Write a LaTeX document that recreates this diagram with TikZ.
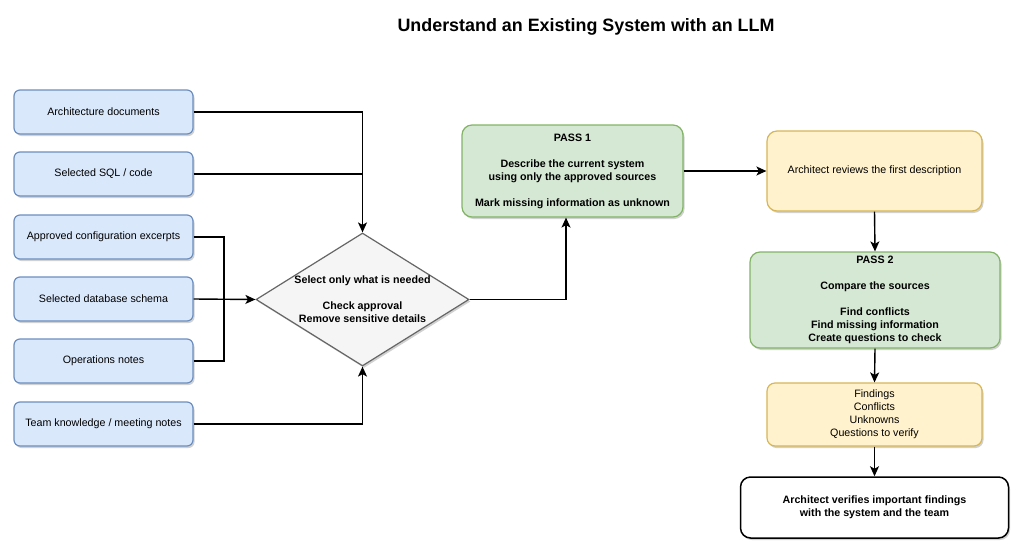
\documentclass[tikz,border=0pt]{standalone}
\usepackage{fontspec}
\setmainfont{Liberation Sans}
\definecolor{dioblue}{HTML}{DAE8FC}
\definecolor{dioblueline}{HTML}{6C8EBF}
\definecolor{diogreen}{HTML}{D5E8D4}
\definecolor{diogreenline}{HTML}{82B366}
\definecolor{dioyellow}{HTML}{FFF2CC}
\definecolor{dioyellowline}{HTML}{D6B656}
\definecolor{diogray}{HTML}{F5F5F5}
\definecolor{diograyline}{HTML}{666666}
\usetikzlibrary{shapes.geometric,arrows.meta,shadows}

\begin{document}
\begin{tikzpicture}[
  x=1pt, y=-1pt,
  card/.style={draw=#1line, fill=#1, rounded corners=6pt, line width=1.2pt,
    drop shadow={shadow xshift=1.5pt, shadow yshift=-2pt, opacity=0.18, fill=black},
    font=\fontsize{10.7}{13}\selectfont, align=center, inner sep=2pt},
  src/.style={card=dioblue, minimum width=179pt, minimum height=44pt},
  pass/.style={card=diogreen, rounded corners=10pt, font=\fontsize{10.7}{13}\selectfont\bfseries},
  gate/.style={diamond, draw=diograyline, fill=diogray, line width=1.2pt,
    shape aspect=1.6, inner sep=0pt, minimum width=213pt, minimum height=133pt,
    drop shadow={shadow xshift=1.5pt, shadow yshift=-2pt, opacity=0.18, fill=black},
    font=\fontsize{10.7}{13}\selectfont\bfseries, align=center},
  wire/.style={line width=1.4pt, black},
  flow/.style={wire, -{Stealth[length=10pt, width=9pt, inset=2.5pt]}}
]
  \useasboundingbox (0,0) rectangle (1024,554);

  % Title
  \node[font=\fontsize{17.9}{21}\selectfont\bfseries] (title) at (586,27) {Understand an Existing System with an LLM};

  % Sources
  \node[src] (arch) at (103.5,112) {Architecture documents};
  \node[src] (sql) at (103.5,174) {Selected SQL / code};
  \node[src] (config) at (103.5,237) {Approved configuration excerpts};
  \node[src] (schema) at (103.5,299) {Selected database schema};
  \node[src] (ops) at (103.5,361) {Operations notes};
  \node[src] (team) at (103.5,424) {Team knowledge / meeting notes};

  % Selection step
  \node[gate] (select) at (362.5,299.5) {Select only what is needed\\[13pt]Check approval\\Remove sensitive details};
  \coordinate (merge) at (224,299);

  % Passes and review
  \node[pass, minimum width=221pt, minimum height=92pt] (pass1) at (572.5,171)
    {PASS 1\\[13pt]Describe the current system\\using only the approved sources\\[13pt]Mark missing information as unknown};
  \node[card=dioyellow, rounded corners=10pt, minimum width=215pt, minimum height=80pt] (review) at (874.5,171)
    {Architect reviews the first description};
  \node[pass, minimum width=250pt, minimum height=96pt] (pass2) at (875,300)
    {PASS 2\\[13pt]Compare the sources\\[13pt]Find conflicts\\Find missing information\\Create questions to check};
  \node[card=dioyellow, rounded corners=8pt, minimum width=215pt, minimum height=63pt] (findings) at (874.5,414.5)
    {Findings\\Conflicts\\Unknowns\\Questions to verify};
  \node[draw, fill=white, rounded corners=10pt, line width=1.5pt, minimum width=268pt, minimum height=61pt,
    drop shadow={shadow xshift=1.5pt, shadow yshift=-2pt, opacity=0.18, fill=black},
    font=\fontsize{10.7}{13}\selectfont\bfseries, align=center] (verify) at (874.5,507.5)
    {Architect verifies important findings\\with the system and the team};

  % Connectors into the selection step
  \draw[flow] (arch.east) -| (select.north);
  \draw[wire] (sql.east) -| (select.north);
  \draw[wire] (config.east) -| (merge);
  \draw[wire] (ops.east) -| (merge);
  \draw[flow] (schema.east) -- (select.west);
  \draw[flow] (team.east) -| (select.south);

  % Main flow
  \draw[flow] (select.east) -| ([xshift=-6.5pt]pass1.south);
  \draw[flow] (pass1.east) -- (review.west);
  \draw[flow] (review.south) -- (pass2.north);
  \draw[flow] (pass2.south) -- (findings.north);
  \draw[flow] (findings.south) -- (verify.north);
\end{tikzpicture}
\end{document}
